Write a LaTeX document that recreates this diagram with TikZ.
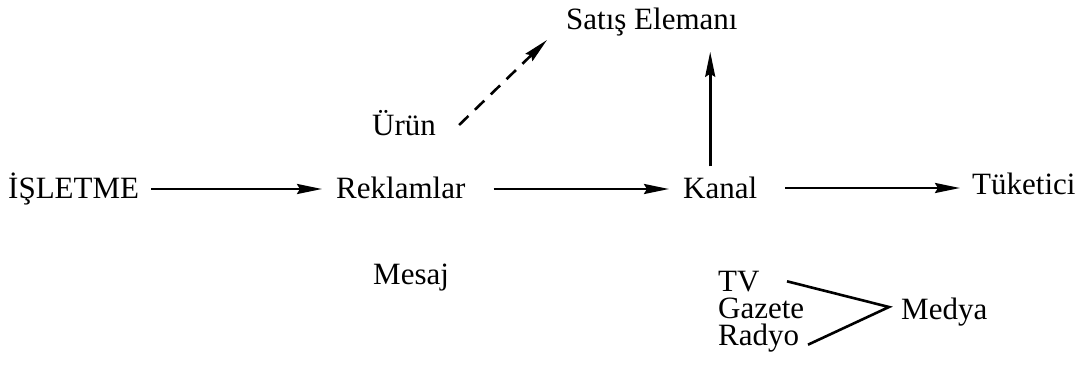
\documentclass[tikz,border=0pt]{standalone}
\usepackage{fontspec}
\setmainfont{Liberation Serif}
\usetikzlibrary{arrows.meta,calc}
\begin{document}
\begin{tikzpicture}[x=1pt,y=-1pt,
  lbl/.style={inner sep=0pt, font=\fontsize{31}{34}\selectfont, anchor=base west},
  arr/.style={line width=2.6pt, -{Stealth[length=25pt,width=10pt,inset=3pt]}},
  dsh/.style={arr, dash pattern=on 13pt off 9pt},
  brk/.style={line width=2.6pt}]
\useasboundingbox (0,0) rectangle (1080,367);
\node[lbl] (sat) at (566,29) {Satış Elemanı};
\node[lbl] (urun) at (372,135) {Ürün};
\node[lbl] (isl) at (8,198) {İŞLETME};
\node[lbl] (rek) at (336,198) {Reklamlar};
\node[lbl] (kan) at (683,198) {Kanal};
\node[lbl] (tuk) at (972,194) {Tüketici};
\node[lbl] (mes) at (373,284) {Mesaj};
\node[lbl, anchor=west, align=left, font=\fontsize{31}{27}\selectfont] (tgr) at (718,312) {TV\\Gazete\\Radyo};
\node[lbl] (med) at (901,319) {Medya};
% horizontal arrows
\draw[arr] ($(isl.base east)+(12,-9)$) -- ($(rek.base west)+(-14,-9)$);
\draw[arr] ($(rek.base east)+(28,-9)$) -- ($(kan.base west)+(-14,-9)$);
\coordinate (ks) at ($(kan.base east)+(28,-10)$);
\coordinate (te) at ($(tuk.base west)+(-12,0)$);
\draw[arr] (ks) -- (te |- ks);
% vertical arrow
\coordinate (vb) at ($(kan.north)+(-10,-10)$);
\coordinate (vt) at ($(sat.south)+(0,16)$);
\draw[arr] (vb) -- (vb |- vt);
% dashed arrow
\draw[dsh] ($(urun.base east)+(23,-10)$) -- ($(sat.base west)+(-19,11)$);
% media bracket
\coordinate (vx) at ($(med.base west)+(-12,-12)$);
\draw[brk] ($(tgr.north west)+(69,10)$) -- (vx) -- ($(tgr.south west)+(90,-8)$);
\end{tikzpicture}
\end{document}
